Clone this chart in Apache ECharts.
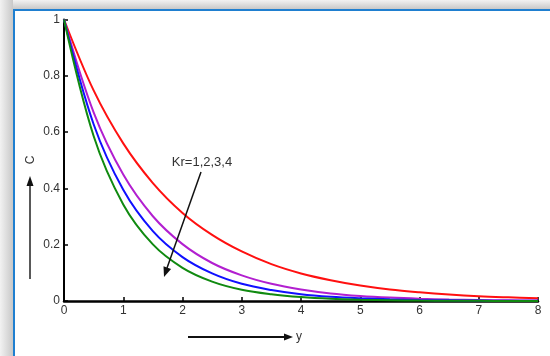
<!DOCTYPE html>
<html><head><meta charset="utf-8">
<script src="https://cdn.jsdelivr.net/npm/echarts@6/dist/echarts.min.js"></script>
<style>html,body{margin:0;padding:0;background:#fff}#c{width:550px;height:356px}</style>
</head><body><div id="c"></div>
<script>
const xValues = [0,0.5,1,1.5,2,2.5,3,3.5,4,4.5,5,5.5,6,6.5,7,7.5,8];
const kr1 = [1,0.748,0.560,0.419,0.313,0.235,0.176,0.131,0.098,0.074,0.055,0.041,0.031,0.023,0.017,0.013,0.0097];
const kr2 = [1,0.670,0.449,0.301,0.202,0.135,0.091,0.061,0.041,0.027,0.018,0.012,0.008,0.0055,0.0037,0.0025,0.0017];
const kr3 = [1,0.628,0.395,0.248,0.156,0.098,0.061,0.039,0.024,0.015,0.0096,0.006,0.0038,0.0024,0.0015,0.0009,0.0006];
const kr4 = [1,0.586,0.343,0.201,0.118,0.069,0.040,0.024,0.014,0.008,0.0047,0.0028,0.0016,0.001,0.0006,0.0003,0.0002];
const seriesColors = ['#ff1010','#b21fd0','#1010ff','#108a10'];
const yTicks = ['0','0.2','0.4','0.6','0.8','1'];
const annotation = 'Kr=1,2,3,4';
const xName = 'y', yName = 'C';

const chart = echarts.init(document.getElementById('c'));
const mk = (d,i)=>({type:'line',data:xValues.map((x,j)=>[x,d[j]]),smooth:0.35,symbol:'none',
  lineStyle:{color:seriesColors[i],width:2},z:3});
const axisLbl = {color:'#333',fontFamily:'Arial, Liberation Sans, sans-serif',fontSize:12};
chart.setOption({
  animation:false,
  backgroundColor:'#fff',
  grid:{left:64,right:12,top:19.5,bottom:55},
  xAxis:{type:'value',min:0,max:8,interval:1,
    axisLine:{lineStyle:{color:'#000',width:2.5}},
    axisTick:{inside:true,length:4,lineStyle:{color:'#000',width:1.5}},
    axisLabel:Object.assign({margin:4},axisLbl),splitLine:{show:false}},
  yAxis:{type:'value',min:0,max:1,interval:0.2,
    axisLine:{show:true,lineStyle:{color:'#000',width:2}},
    axisTick:{show:true,inside:true,length:4,lineStyle:{color:'#000',width:1.5}},
    axisLabel:Object.assign({margin:4,formatter:v=>yTicks[Math.round(v*5)]},axisLbl),splitLine:{show:false}},
  series:[mk(kr1,0),mk(kr2,1),mk(kr3,2),mk(kr4,3)],
  graphic:[
    {type:'rect',shape:{x:0,y:0,width:550,height:9},style:{fill:new echarts.graphic.LinearGradient(0,0,0,1,[{offset:0,color:'#f2f2f2'},{offset:1,color:'#c8c8c8'}])},z:0},
    {type:'rect',shape:{x:0,y:0,width:13,height:356},style:{fill:new echarts.graphic.LinearGradient(0,0,1,0,[{offset:0,color:'#f2f2f2'},{offset:1,color:'#c8c8c8'}])},z:0},
    {type:'rect',shape:{x:13,y:9,width:537,height:2},style:{fill:'#1f7fd0'},z:1},
    {type:'rect',shape:{x:13,y:9,width:2,height:347},style:{fill:'#1f7fd0'},z:1},
    {type:'text',x:202,y:162,style:{text:annotation,fill:'#333',font:'13px Arial, Liberation Sans, sans-serif',align:'center',verticalAlign:'middle'},z:10},
    {type:'line',shape:{x1:201,y1:172,x2:167,y2:268},style:{stroke:'#111',lineWidth:1.5},z:10},
    {type:'polygon',shape:{points:[[164,277],[171.1,268.9],[163.5,266.3]]},style:{fill:'#111'},z:10},
    {type:'line',shape:{x1:30,y1:279,x2:30,y2:185},style:{stroke:'#222',lineWidth:1.5},z:10},
    {type:'polygon',shape:{points:[[30,176],[26.5,186],[33.5,186]]},style:{fill:'#111'},z:10},
    {type:'text',x:31,y:160,rotation:Math.PI/2,style:{text:yName,fill:'#333',font:'12px Arial, Liberation Sans, sans-serif',align:'center',verticalAlign:'middle'},z:10},
    {type:'line',shape:{x1:188,y1:337,x2:285,y2:337},style:{stroke:'#111',lineWidth:2},z:10},
    {type:'polygon',shape:{points:[[293,337],[284,333.5],[284,340.5]]},style:{fill:'#111'},z:10},
    {type:'text',x:296,y:337,style:{text:xName,fill:'#333',font:'12px Arial, Liberation Sans, sans-serif',align:'left',verticalAlign:'middle'},z:10}
  ]
});
</script></body></html>
